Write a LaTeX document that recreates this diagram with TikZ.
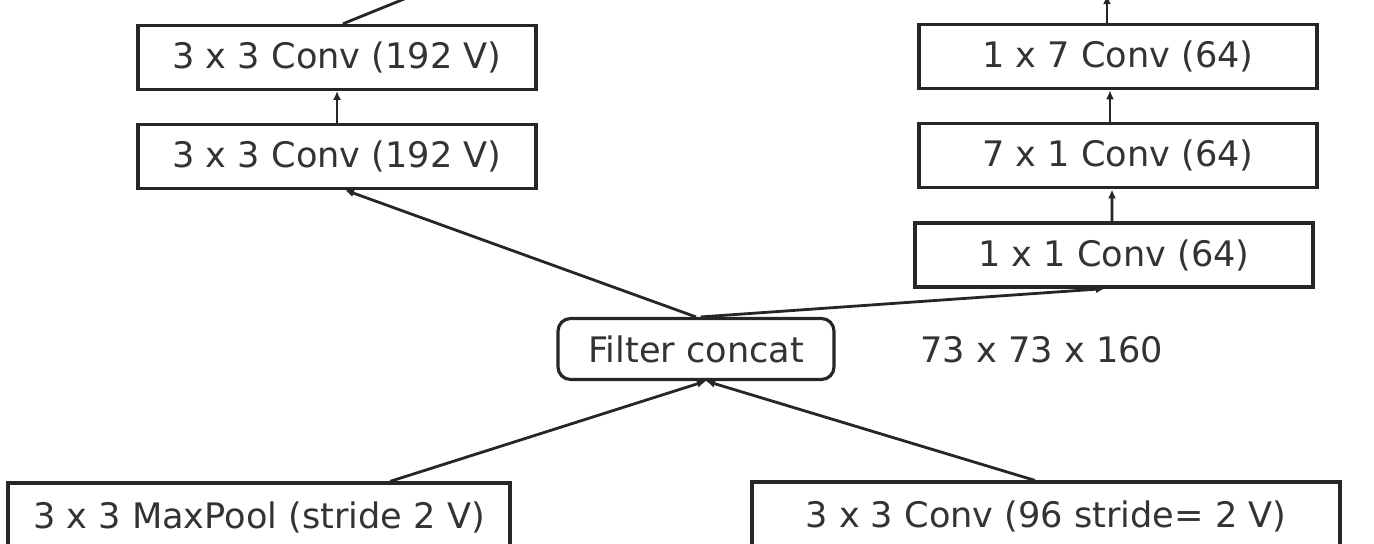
\documentclass[tikz,border=0pt]{standalone}
\usepackage{fontspec}
\setmainfont{DejaVu Sans}
\usetikzlibrary{arrows.meta, positioning}

\begin{document}
\begin{tikzpicture}[
    x=0.02cm, y=-0.02cm,
    conv/.style={rectangle, draw=black!85, line width=1.8pt, minimum width=7.96cm, minimum height=1.28cm, inner sep=0pt, text=black!80, font=\fontsize{20}{24}\selectfont},
    concat/.style={conv, rounded corners=2.5mm, minimum width=5.52cm, minimum height=1.22cm},
    arrow/.style={-{Latex[length=1.8mm, width=1.6mm]}, line width=1.6pt, draw=black!85},
    node distance=0.64cm
]
\useasboundingbox (0,0) rectangle (1374,544);
\clip (0,0) rectangle (1374,544);

\node[concat] (concat) at (696,349) {Filter concat};
\node[text=black!80, font=\fontsize{20}{24}\selectfont] (size) at (1042,350) {73 x 73 x 160};

% left branch
\node[conv] (l1) at (337,156.5) {3 x 3 Conv (192 V)};
\node[conv, above=of l1] (l2) {3 x 3 Conv (192 V)};

% right branch
\node[conv] (r1) at (1114,255) {1 x 1 Conv (64)};
\node[conv, above=of r1, xshift=0.08cm] (r2) {7 x 1 Conv (64)};
\node[conv, above=of r2] (r3) {1 x 7 Conv (64)};

% inputs
\node[conv, minimum width=10.04cm, minimum height=1.36cm] (pool) at (259,517) {3 x 3 MaxPool (stride 2 V)};
\node[conv, minimum width=11.76cm, minimum height=1.36cm] (red) at (1046,516) {3 x 3 Conv (96 stride= 2 V)};

\coordinate (l2up) at (451,-20);
\coordinate[above=0.56cm of r3.north] (r3up);

% Arrows
\draw[arrow] ([xshift=2.62cm]pool.north) -- ([xshift=0.2cm]concat.south);
\draw[arrow] ([xshift=-0.22cm]red.north) -- ([xshift=0.2cm]concat.south);
\draw[arrow] (concat.north) -- ([xshift=0.16cm]l1.south);
\draw[arrow] ([xshift=0.1cm]concat.north) -- ([xshift=-0.18cm]r1.south);
\draw[arrow] (l1) -- (l2);
\draw[arrow] ([xshift=0.12cm]l2.north) -- (l2up);
\draw[arrow] ([xshift=-0.04cm]r1.north) -- ([xshift=-0.12cm]r2.south);
\draw[arrow] ([xshift=-0.16cm]r2.north) -- ([xshift=-0.16cm]r3.south);
\draw[arrow] ([xshift=-0.22cm]r3.north) -- ([xshift=-0.22cm]r3up);

\end{tikzpicture}
\end{document}
